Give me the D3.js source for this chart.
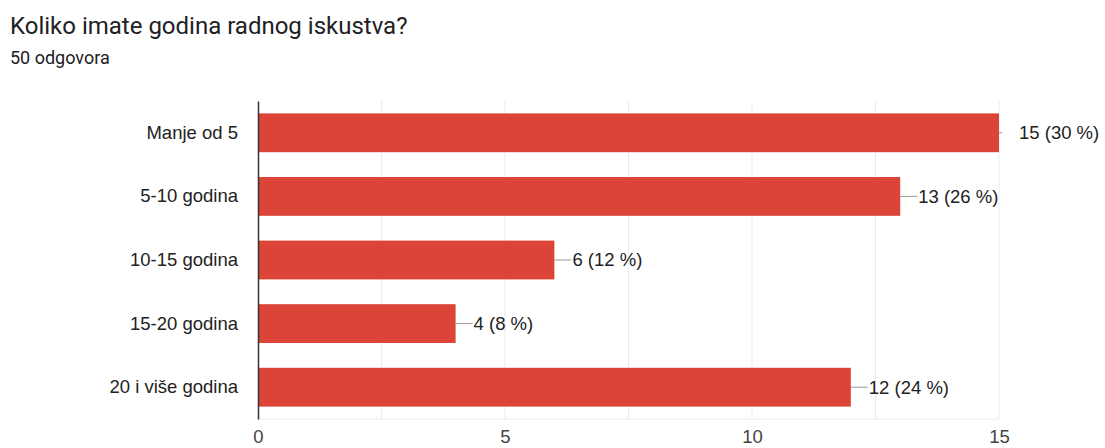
<!DOCTYPE html>
<html>
<head>
<meta charset="utf-8">
<script src="https://cdn.jsdelivr.net/npm/d3@7"></script>
<style>
  body { margin: 0; background: #fff; font-family: Roboto, Arial, sans-serif; }
</style>
</head>
<body>
<script>
var categories = ['Manje od 5', '5-10 godina', '10-15 godina', '15-20 godina', '20 i više godina'];
var counts = [15, 13, 6, 4, 12];
var labels = ['15 (30 %)', '13 (26 %)', '6 (12 %)', '4 (8 %)', '12 (24 %)'];
var tickValues = [0, 5, 10, 15];
var gridValues = [2.5, 5, 7.5, 10, 12.5, 15];

var width = 1105, height = 448;
var margin = {left: 258, right: 106, top: 101, bottom: 29};
var innerW = width - margin.left - margin.right;
var innerH = height - margin.top - margin.bottom;
var chartFont = "'Liberation Sans', Arial, sans-serif";

var svg = d3.select("body").append("svg").attr("width", width).attr("height", height);

// title + subtitle
svg.append("text").attr("x", 10).attr("y", 34)
    .attr("font-size", 24).attr("fill", "#202124").text("Koliko imate godina radnog iskustva?");
svg.append("text").attr("x", 10).attr("y", 64)
    .attr("font-size", 18).attr("fill", "#202124").text("50 odgovora");

var x = d3.scaleLinear().domain([0, 15]).range([0, innerW]);
var y = d3.scaleBand().domain(categories).range([0, innerH]).paddingInner(0.39).paddingOuter(0.195);

var g = svg.append("g").attr("transform", "translate(" + margin.left + "," + margin.top + ")");

// gridlines
g.selectAll("line.grid").data(gridValues).enter().append("line")
    .attr("class", "grid")
    .attr("x1", function(d){ return x(d); }).attr("x2", function(d){ return x(d); })
    .attr("y1", 0).attr("y2", innerH)
    .attr("stroke", "#ebebeb").attr("stroke-width", 1);
g.append("line").attr("x1", 0).attr("x2", innerW).attr("y1", innerH).attr("y2", innerH)
    .attr("stroke", "#ebebeb");

// bars
g.selectAll("rect.bar").data(counts).enter().append("rect")
    .attr("class", "bar")
    .attr("x", 0)
    .attr("y", function(d, i){ return y(categories[i]); })
    .attr("width", function(d){ return x(d); })
    .attr("height", y.bandwidth())
    .attr("fill", "#db4437");

// leader lines + value labels
g.selectAll("line.lead").data(counts).enter().append("line")
    .attr("class", "lead")
    .attr("x1", function(d){ return x(d); }).attr("x2", function(d){ return x(d) + (d === 15 ? 3 : 17); })
    .attr("y1", function(d, i){ return y(categories[i]) + y.bandwidth() / 2; })
    .attr("y2", function(d, i){ return y(categories[i]) + y.bandwidth() / 2; })
    .attr("stroke", "#999").attr("stroke-width", 1);
g.selectAll("text.val").data(counts).enter().append("text")
    .attr("class", "val")
    .attr("x", function(d){ return x(d) + (d === 15 ? 20 : 18); })
    .attr("y", function(d, i){ return y(categories[i]) + y.bandwidth() / 2; })
    .attr("dy", "0.35em")
    .attr("font-size", 18.5).attr("fill", "#222").attr("font-family", chartFont)
    .text(function(d, i){ return labels[i]; });

// category axis
var yAxis = d3.axisLeft(y).tickSize(0).tickPadding(20);
var ya = g.append("g").call(yAxis);
ya.select(".domain").attr("stroke", "#333").attr("stroke-width", 1.5);
ya.selectAll("text").attr("font-size", 18.5).attr("fill", "#222").attr("font-family", chartFont);

// value axis
var xAxis = d3.axisBottom(x).tickValues(tickValues).tickSize(0).tickPadding(11);
var xa = g.append("g").attr("transform", "translate(0," + innerH + ")").call(xAxis);
xa.select(".domain").remove();
xa.selectAll("text").attr("font-size", 18.5).attr("fill", "#444").attr("font-family", chartFont);
</script>
</body>
</html>
